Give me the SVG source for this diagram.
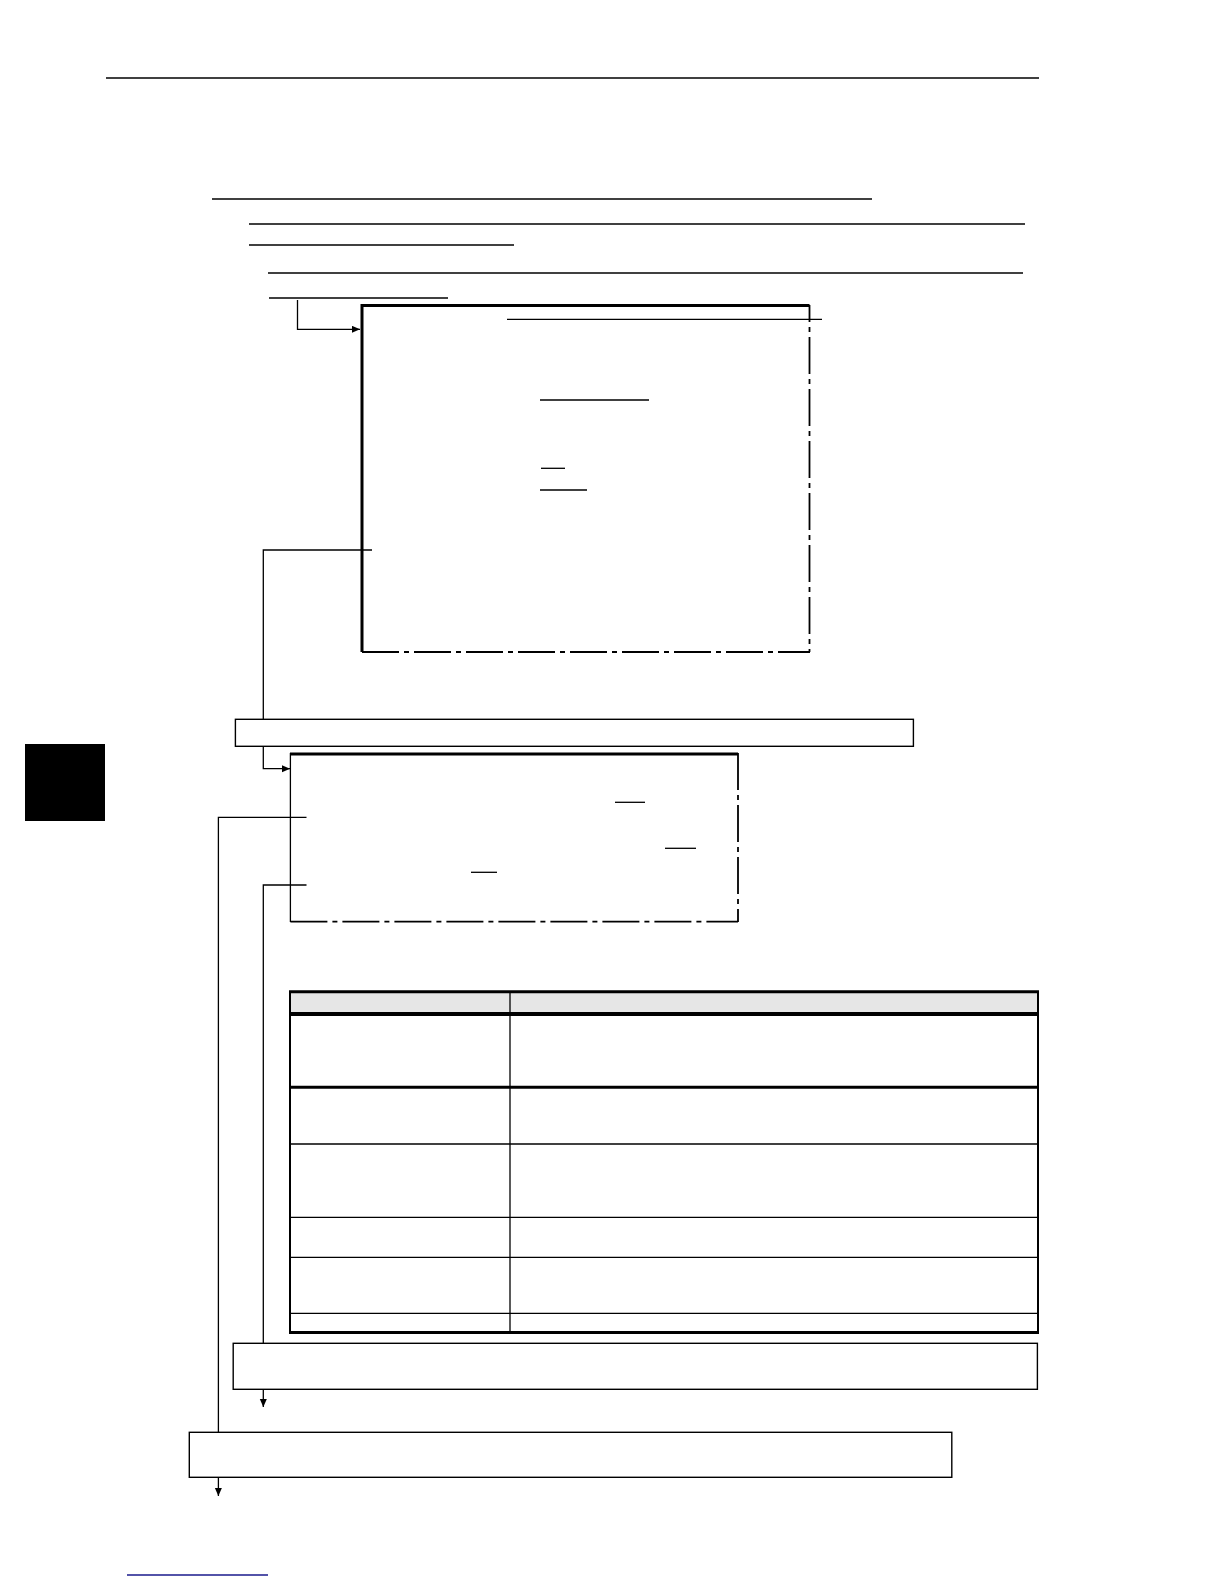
<svg xmlns="http://www.w3.org/2000/svg" width="1224" height="1584" viewBox="0 0 1224 1584">
<style>
.rule{stroke:#000;stroke-width:1.4;fill:none}
.thin{stroke:#000;stroke-width:1.3;fill:none}
.thick{stroke:#000;stroke-width:3;fill:none}
.dd{stroke:#000;stroke-width:1.8;fill:none;stroke-dasharray:37 5 5 5}
.conn{stroke:#000;stroke-width:1.3;fill:none}
.box{fill:#fff;stroke:#000;stroke-width:1.4}
</style>
<defs>
<marker id="arr" markerUnits="userSpaceOnUse" markerWidth="9" markerHeight="8" refX="8" refY="3.5" orient="auto">
<path d="M0,0 L8,3.5 L0,7 z" fill="#000"/>
</marker>
</defs>
<rect width="1224" height="1584" fill="#fff"/>

<g id="page-rules">
<line class="rule" x1="106" y1="78" x2="1039" y2="78"/>
<line class="rule" x1="212" y1="199" x2="872" y2="199"/>
<line class="rule" x1="249" y1="224" x2="1025" y2="224"/>
<line class="rule" x1="249" y1="245" x2="514" y2="245"/>
<line class="rule" x1="268" y1="273" x2="1023" y2="273"/>
<line class="rule" x1="269" y1="298" x2="448" y2="298"/>
</g>

<g id="tab-marker">
<rect x="25" y="744" width="80" height="77" fill="#000"/>
</g>

<g id="screen1">
<path class="thick" d="M362,652 V305.5 H809.5"/>
<line class="dd" x1="809.5" y1="305" x2="809.5" y2="652" style="stroke-dashoffset:20"/>
<line class="dd" x1="362" y1="652" x2="810" y2="652"/>
<line class="thin" x1="507" y1="319.3" x2="822" y2="319.3"/>
<line class="thin" x1="540" y1="400" x2="649" y2="400"/>
<line class="thin" x1="541" y1="468.3" x2="565" y2="468.3"/>
<line class="thin" x1="540" y1="490" x2="587" y2="490"/>
</g>

<g id="bar1">
<rect class="box" x="235.4" y="719.3" width="678" height="27"/>
</g>

<g id="screen2">
<line class="thick" x1="290" y1="754" x2="738" y2="754"/>
<line class="thin" x1="290.4" y1="753" x2="290.4" y2="922"/>
<line class="dd" x1="738" y1="753" x2="738" y2="922"/>
<line class="dd" x1="290.4" y1="921.7" x2="738" y2="921.7"/>
<line class="thin" x1="615" y1="802.3" x2="645" y2="802.3"/>
<line class="thin" x1="665" y1="848.3" x2="696" y2="848.3"/>
<line class="thin" x1="471" y1="872.3" x2="497" y2="872.3"/>
</g>

<g id="table">
<rect x="290" y="992" width="748" height="22" fill="#e6e6e6"/>
<line x1="290" y1="1014" x2="1038" y2="1014" stroke="#000" stroke-width="4"/>
<line x1="290" y1="1087.3" x2="1038" y2="1087.3" stroke="#000" stroke-width="3"/>
<line class="thin" x1="290" y1="1144" x2="1038" y2="1144"/>
<line class="thin" x1="290" y1="1217.3" x2="1038" y2="1217.3"/>
<line class="thin" x1="290" y1="1257.3" x2="1038" y2="1257.3"/>
<line class="thin" x1="290" y1="1313.3" x2="1038" y2="1313.3"/>
<line class="thin" x1="510" y1="992" x2="510" y2="1332"/>
<line x1="290" y1="1332.5" x2="1038" y2="1332.5" stroke="#000" stroke-width="3"/>
<line x1="289" y1="991.7" x2="1039" y2="991.7" stroke="#000" stroke-width="3"/>
<line x1="290" y1="991" x2="290" y2="1334" stroke="#000" stroke-width="2"/>
<line x1="1038" y1="991" x2="1038" y2="1334" stroke="#000" stroke-width="2"/>
</g>

<g id="box-a">
<rect class="box" x="233.2" y="1343.3" width="804.2" height="46"/>
</g>

<g id="box-b">
<rect class="box" x="189.3" y="1432.3" width="762.5" height="45"/>
</g>

<g id="connectors">
<path class="conn" d="M297.5,300 V329.3 H360" marker-end="url(#arr)"/>
<path class="conn" d="M372,550 H263.3 V719.3"/>
<path class="conn" d="M263.3,746.3 V768.7 H290" marker-end="url(#arr)"/>
<path class="conn" d="M306.5,817.3 H218.4 V1432.3"/>
<path class="conn" d="M306.5,885 H263.3 V1343.3"/>
<path class="conn" d="M263.3,1389.3 V1407" marker-end="url(#arr)"/>
<path class="conn" d="M218.4,1477.3 V1496" marker-end="url(#arr)"/>
</g>

<g id="footer-link">
<line x1="127" y1="1575" x2="268" y2="1575" stroke="#1a1a8c" stroke-width="1.5"/>
</g>
</svg>
